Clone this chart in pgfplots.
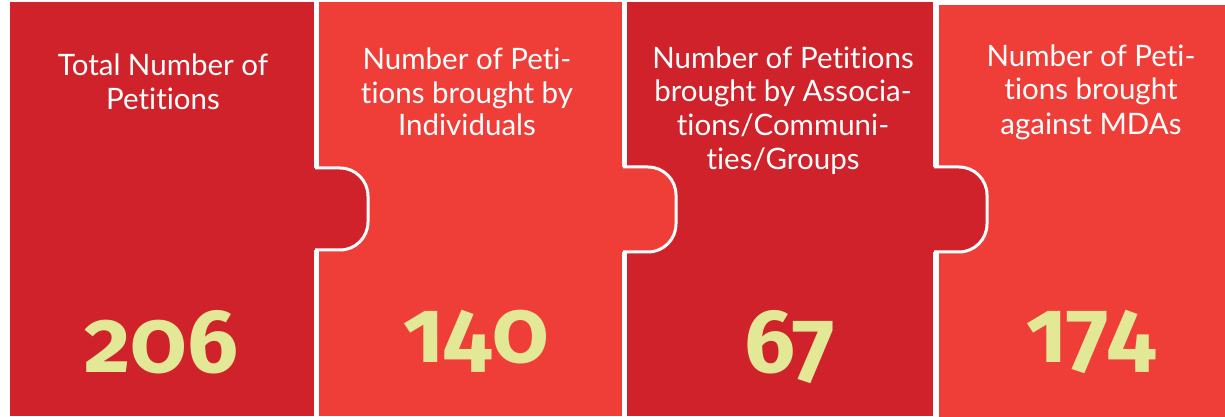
\documentclass[border=0pt]{standalone}
\usepackage{pgfplots}
\pgfplotsset{compat=1.18}
\usepackage{fontspec}
\setmainfont{Lato}[Ligatures={NoCommon}]
\newfontfamily\numfont{Fira Sans}[Numbers=OldStyle]
\definecolor{darkred}{RGB}{208,34,42}
\definecolor{lightred}{RGB}{239,62,56}
\definecolor{numcol}{RGB}{227,232,151}

% value labels: x, baseline y, value
\pgfplotstableread{
x    y   v
161  44  206
476  54  140
790  44  67
1091 54  174
}\values

% puzzle tab sticking out of a panel's right edge
\newcommand{\tab}[4]{% edge x, top y, bottom y, colour
  \fill[#4] (#1-1,#2) -- (#1+26,#2) arc[start angle=90,end angle=0,radius=28]
    -- (#1+54,#3+28) arc[start angle=0,end angle=-90,radius=28] -- (#1-1,#3) -- cycle;
  \draw[white,line width=3pt] (#1+1,#2) -- (#1+26,#2) arc[start angle=90,end angle=0,radius=28]
    -- (#1+54,#3+28) arc[start angle=0,end angle=-90,radius=28] -- (#1+1,#3);
}

\begin{document}
\begin{tikzpicture}
\begin{axis}[x=1pt,y=1pt,xmin=0,xmax=1225,ymin=0,ymax=417,hide axis,clip=false,
  scale only axis]
\fill[white] (0,0) rectangle (1225,417);
\fill[darkred]  (10,1)  rectangle (314,415);
\fill[lightred] (319,1) rectangle (622,415);
\fill[darkred]  (627,1) rectangle (933,415);
\fill[lightred] (939,0) rectangle (1225,412);
\tab{314}{249}{167}{darkred}
\tab{622}{250}{165}{lightred}
\tab{933}{250}{165}{darkred}

\begin{scope}[every node/.style={text=white,anchor=base,font=\fontsize{29.5}{33}\selectfont}]
\node at (163,341) {Total Number of};
\node at (163,307) {Petitions};
\node at (467,347) {Number of Peti-};
\node at (467,313) {tions brought by};
\node at (467,281) {Individuals};
\node at (783,348) {Number of Petitions};
\node at (783,315) {brought by Associa-};
\node at (783,281) {tions/Communi-};
\node at (783,247) {ties/Groups};
\node at (1091,350) {Number of Peti-};
\node at (1091,317) {tions brought};
\node at (1091,282) {against MDAs};
\end{scope}

\addplot[draw=none,mark=none,nodes near coords,point meta=explicit symbolic,
  nodes near coords align={center},
  nodes near coords style={anchor=base,text=numcol,font=\numfont\bfseries\fontsize{90}{90}\selectfont}]
  table[x=x,y=y,meta=v] {\values};
\end{axis}
\end{tikzpicture}
\end{document}
